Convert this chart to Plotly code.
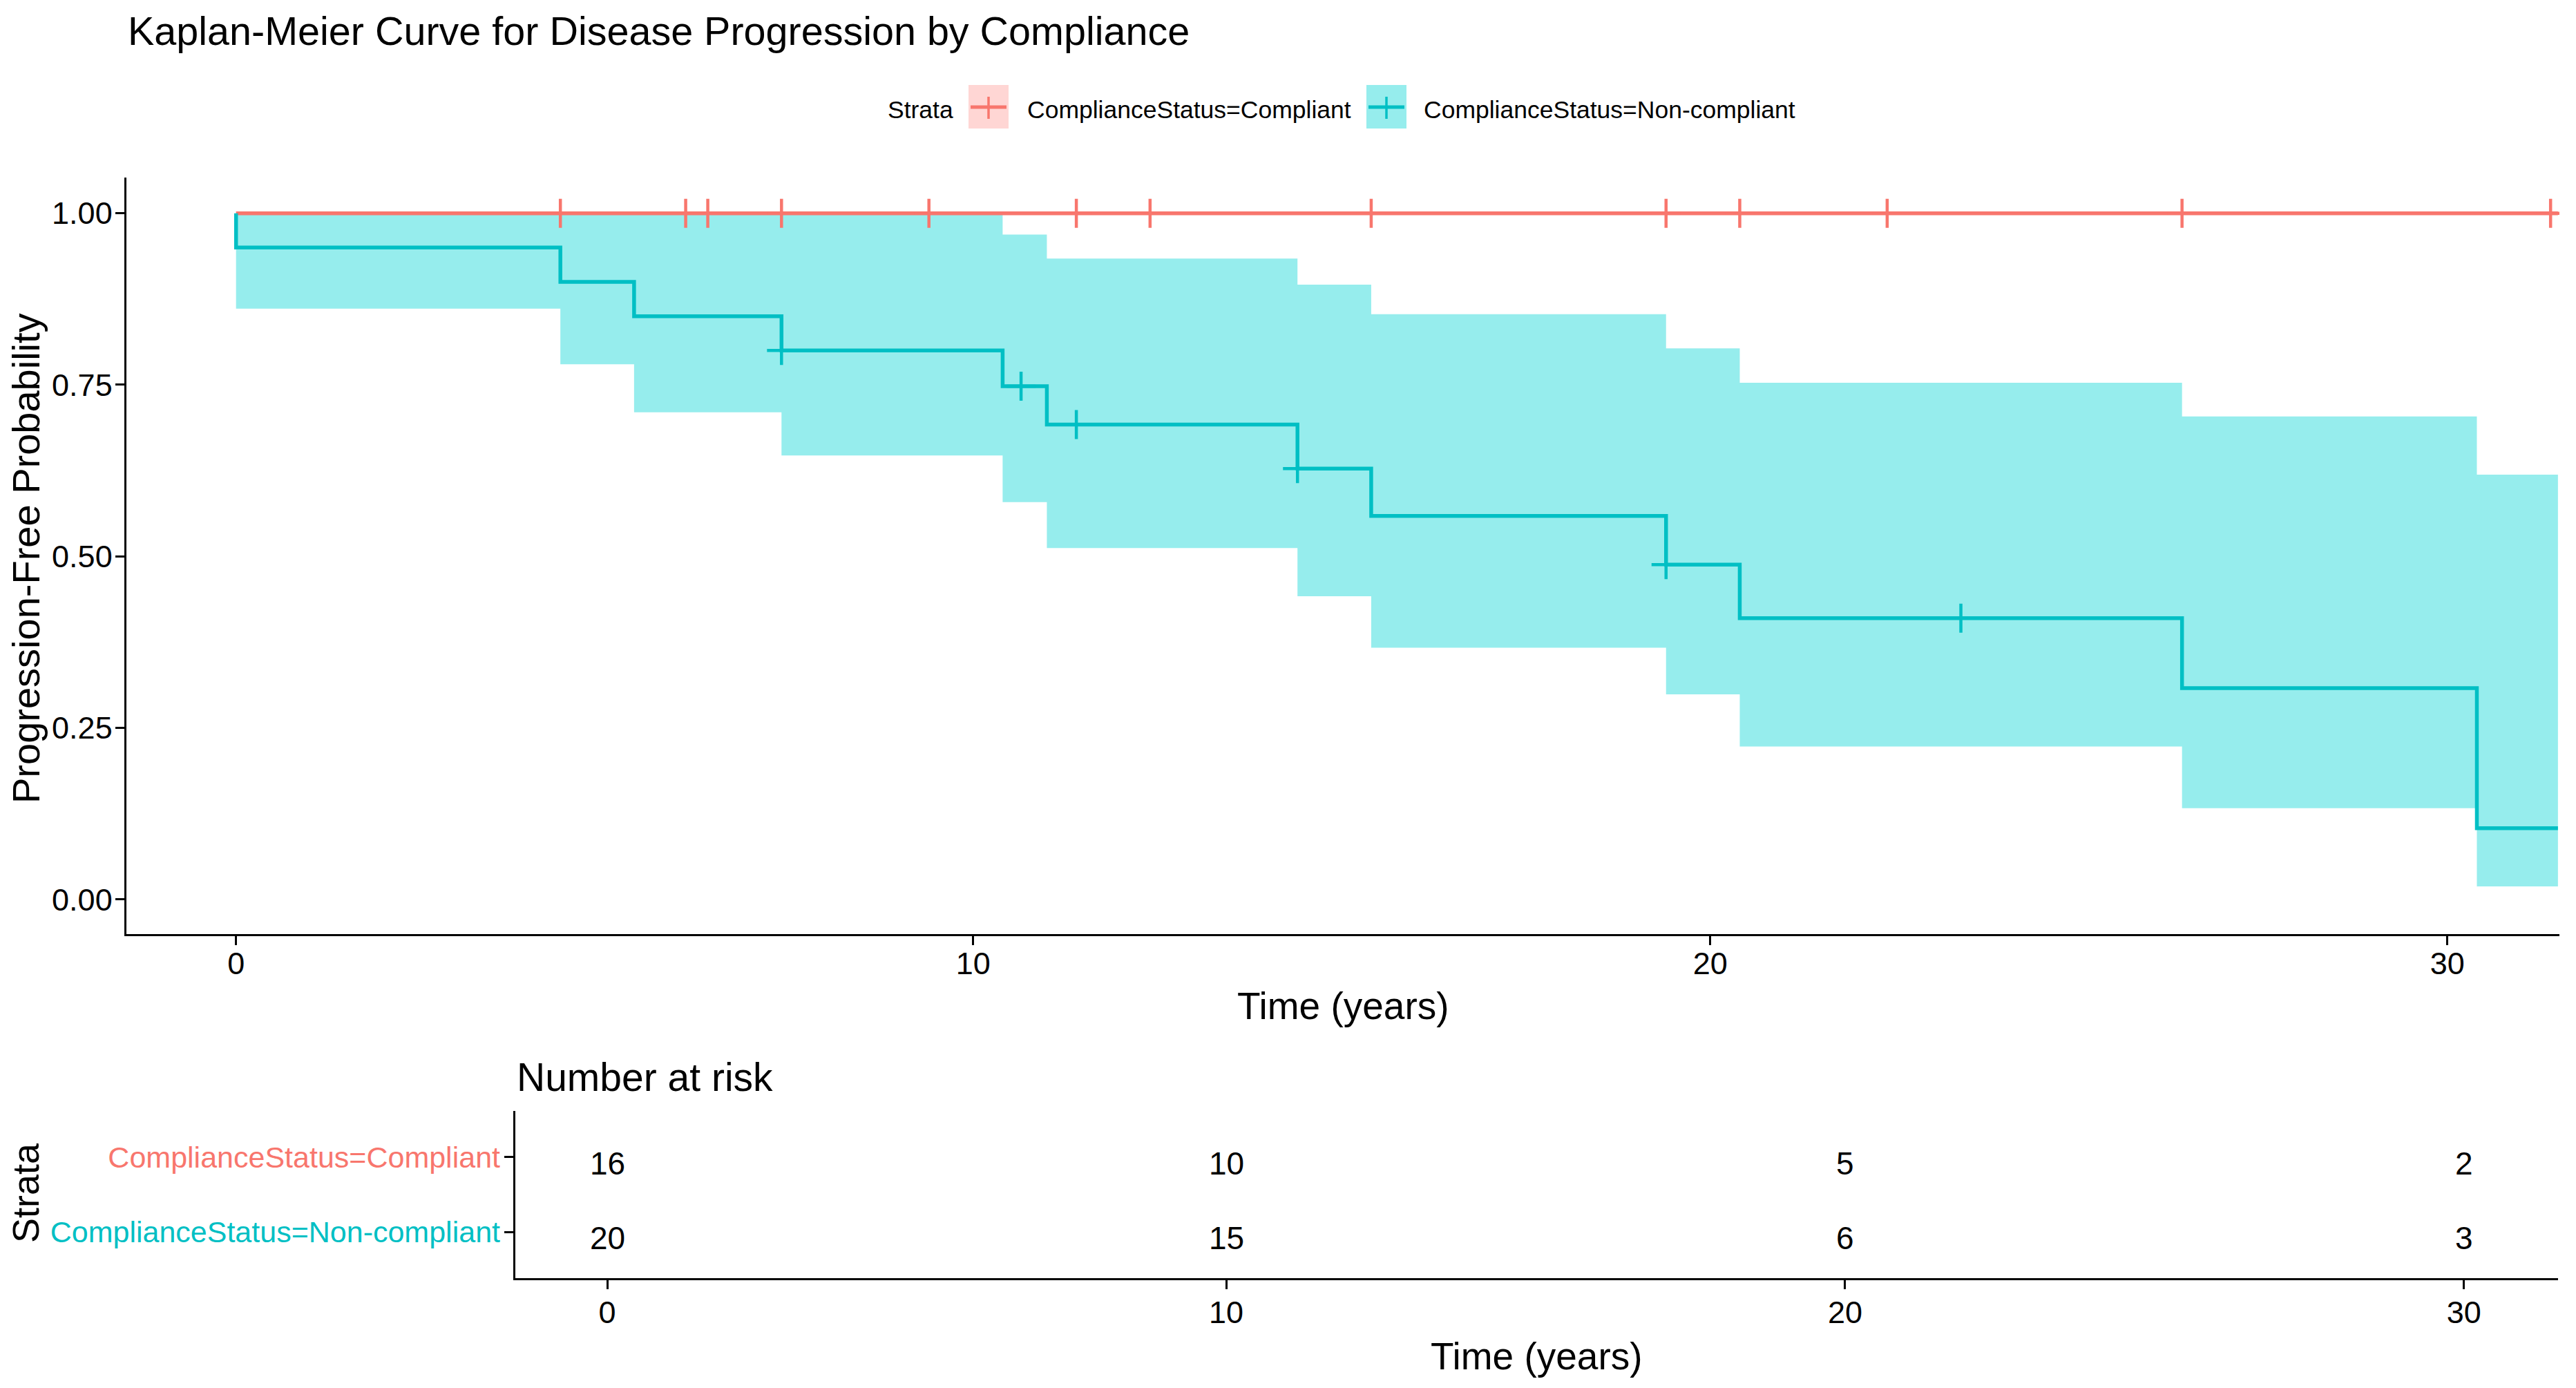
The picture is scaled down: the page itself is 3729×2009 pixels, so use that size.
import plotly.graph_objects as go

# ---------------- data ----------------
strata = ["ComplianceStatus=Compliant", "ComplianceStatus=Non-compliant"]
colors = ["#F8766D", "#00BFC4"]

# Non-compliant Kaplan-Meier steps (years)
nc_times = [0.0, 4.4, 5.4, 7.4, 10.4, 11.0, 14.4, 15.4, 19.4, 20.4, 26.4, 30.4]
nc_surv = [0.95, 0.90, 0.85, 0.80, 0.748, 0.692, 0.628, 0.559, 0.488, 0.410, 0.308, 0.104]
nc_upper = [1.0, 1.0, 1.0, 1.0, 0.969, 0.934, 0.896, 0.853, 0.803, 0.753, 0.704, 0.619]
nc_lower = [0.861, 0.780, 0.710, 0.647, 0.579, 0.512, 0.442, 0.367, 0.299, 0.223, 0.133, 0.019]
nc_end = 31.5
nc_censor_t = [7.4, 10.65, 11.4, 14.4, 19.4, 23.4]
nc_censor_s = [0.80, 0.748, 0.692, 0.628, 0.488, 0.410]

# Compliant: no events, survival stays at 1
c_start = 0.0
c_end = 31.5
c_surv = 1.0
c_censor_t = [4.4, 6.1, 6.4, 7.4, 9.4, 11.4, 12.4, 15.4, 19.4, 20.4, 22.4, 26.4, 31.4]

# Number at risk
risk_times = [0, 10, 20, 30]
risk_compliant = [16, 10, 5, 2]
risk_noncompliant = [20, 15, 6, 3]

x_ticks = [0, 10, 20, 30]
y_ticks = [0.0, 0.25, 0.5, 0.75, 1.0]

# ---------------- layout helpers ----------------
W, H = 3729, 2009
FONT = "Liberation Sans, Arial, sans-serif"
BAND = "rgb(150,237,237)"
PINK = "rgb(255,214,212)"


def px(x):
    return x / W


def py(y):
    return 1 - y / H


fig = go.Figure()

# confidence band (non-compliant)
band_x = nc_times + [nc_end]
fig.add_trace(go.Scatter(x=band_x, y=nc_lower + [nc_lower[-1]], mode="lines",
                         line=dict(width=0, shape="hv", color=BAND),
                         showlegend=False, hoverinfo="skip", xaxis="x", yaxis="y"))
fig.add_trace(go.Scatter(x=band_x, y=nc_upper + [nc_upper[-1]], mode="lines",
                         line=dict(width=0, shape="hv", color=BAND),
                         fill="tonexty", fillcolor=BAND,
                         showlegend=False, hoverinfo="skip", xaxis="x", yaxis="y"))

# compliant curve
fig.add_trace(go.Scatter(x=[c_start, c_end], y=[c_surv, c_surv], mode="lines",
                         line=dict(color=colors[0], width=5.5, shape="hv"),
                         showlegend=False, xaxis="x", yaxis="y"))
fig.add_trace(go.Scatter(x=c_censor_t, y=[c_surv] * len(c_censor_t), mode="markers",
                         marker=dict(symbol="cross-thin", size=30, color=colors[0],
                                     line=dict(color=colors[0], width=4.5)),
                         showlegend=False, xaxis="x", yaxis="y"))

# non-compliant curve
fig.add_trace(go.Scatter(x=[0.0] + nc_times + [nc_end], y=[1.0] + nc_surv + [nc_surv[-1]],
                         mode="lines", line=dict(color=colors[1], width=5.5, shape="hv"),
                         showlegend=False, xaxis="x", yaxis="y"))
fig.add_trace(go.Scatter(x=nc_censor_t, y=nc_censor_s, mode="markers",
                         marker=dict(symbol="cross-thin", size=30, color=colors[1],
                                     line=dict(color=colors[1], width=4.5)),
                         showlegend=False, xaxis="x", yaxis="y"))

# invisible anchor trace so the risk-table axes exist
fig.add_trace(go.Scatter(x=risk_times, y=[strata[1]] * len(risk_times), mode="markers",
                         marker=dict(opacity=0), showlegend=False, hoverinfo="skip",
                         xaxis="x2", yaxis="y2"))

axis_common = dict(showgrid=False, zeroline=False, showline=True, linecolor="black",
                   linewidth=3, ticks="outside", ticklen=13, tickwidth=3,
                   tickcolor="black")
tick_font = dict(family=FONT, size=45, color="black")

xr = [-1.49, 31.52]
fig.update_layout(
    width=W, height=H,
    margin=dict(l=0, r=0, t=0, b=0),
    paper_bgcolor="white", plot_bgcolor="white",
    showlegend=False,
    xaxis=dict(domain=[px(182.7), px(3705)], range=xr, tickvals=x_ticks,
               anchor="y", tickfont=tick_font, ticklabelstandoff=-12, **axis_common),
    yaxis=dict(domain=[py(1351.6), py(257)], range=[-0.05, 1.052], tickvals=y_ticks,
               tickformat=".2f", anchor="x", tickfont=tick_font,
               ticklabelstandoff=-5, **axis_common),
    xaxis2=dict(domain=[px(745.6), px(3703)], range=xr, tickvals=x_ticks,
                anchor="y2", tickfont=tick_font, ticklabelstandoff=-5, **axis_common),
    yaxis2=dict(domain=[py(1850), py(1608)], type="category",
                categoryorder="array", categoryarray=[strata[1], strata[0]],
                range=[-0.62, 1.62], anchor="x2",
                tickvals=[strata[0], strata[1]],
                ticktext=['<span style="color:%s">%s</span>' % (colors[0], strata[0]),
                          '<span style="color:%s">%s</span>' % (colors[1], strata[1])],
                tickfont=dict(family=FONT, size=43, color="black"),
                ticklabelstandoff=-3, **axis_common),
)

annotations = [
    dict(text="Kaplan-Meier Curve for Disease Progression by Compliance",
         x=px(183), y=py(45), xanchor="left", yanchor="middle",
         font=dict(family=FONT, size=57.5, color="black")),
    dict(text="Time (years)", x=px(1944), y=py(1456), xanchor="center", yanchor="middle",
         font=dict(family=FONT, size=55, color="black")),
    dict(text="Progression-Free Probability", x=px(37), y=py(808), textangle=-90,
         xanchor="center", yanchor="middle", font=dict(family=FONT, size=56, color="black")),
    dict(text="Number at risk", x=px(745.6), y=py(1559), xanchor="left", yanchor="middle",
         font=dict(family=FONT, size=57, color="black")),
    dict(text="Strata", x=px(37), y=py(1727), textangle=-90, xanchor="center",
         yanchor="middle", font=dict(family=FONT, size=54, color="black")),
    dict(text="Time (years)", x=px(2224), y=py(1963), xanchor="center", yanchor="middle",
         font=dict(family=FONT, size=55, color="black")),
    dict(text="Strata", x=px(1283), y=py(159), xanchor="left", yanchor="middle",
         font=dict(family=FONT, size=35.5, color="black")),
    dict(text=strata[0], x=px(1485), y=py(159), xanchor="left", yanchor="middle",
         font=dict(family=FONT, size=35.5, color="black")),
    dict(text=strata[1], x=px(2059), y=py(159), xanchor="left", yanchor="middle",
         font=dict(family=FONT, size=35.5, color="black")),
]
for a in annotations:
    a.update(xref="paper", yref="paper", showarrow=False)

# risk-table numbers, placed through the table's own axes
for name, counts in [(strata[0], risk_compliant), (strata[1], risk_noncompliant)]:
    for t, n in zip(risk_times, counts):
        annotations.append(dict(text=str(n), x=t, y=name, xref="x2", yref="y2",
                                showarrow=False, yshift=-9, xanchor="center",
                                yanchor="middle",
                                font=dict(family=FONT, size=46, color="black")))
fig.update_layout(annotations=annotations)

shapes = []
for (x0, fillc, col) in [(1402, PINK, colors[0]), (1978, BAND, colors[1])]:
    shapes.append(dict(type="rect", xref="paper", yref="paper",
                       x0=px(x0), x1=px(x0 + 58), y0=py(186), y1=py(123),
                       fillcolor=fillc, line=dict(width=0), layer="above"))
    shapes.append(dict(type="line", xref="paper", yref="paper",
                       x0=px(x0 + 3), x1=px(x0 + 55), y0=py(155), y1=py(155),
                       line=dict(color=col, width=5), layer="above"))
    shapes.append(dict(type="line", xref="paper", yref="paper",
                       x0=px(x0 + 29), x1=px(x0 + 29), y0=py(140), y1=py(172),
                       line=dict(color=col, width=3.5), layer="above"))
fig.update_layout(shapes=shapes)

fig.write_html("out.html", config={"displayModeBar": False},
               post_script="document.body.style.margin='0';")
